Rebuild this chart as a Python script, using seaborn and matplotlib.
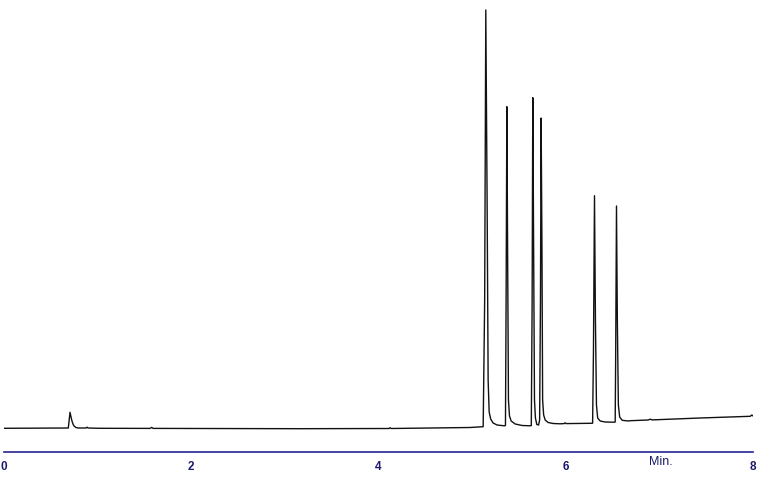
import matplotlib
matplotlib.use("Agg")
import matplotlib.pyplot as plt
import seaborn as sns
import pandas as pd

# Chromatogram trace (time in min, detector signal in arbitrary units)
time_min = [
    0.000, 0.687, 0.705, 0.716, 0.726, 0.737, 0.748, 0.769, 0.791,
    0.876, 0.887, 0.897, 1.026, 1.560, 1.578, 1.592, 3.162,
    4.113, 4.124, 4.135, 4.979,
    5.118, 5.134, 5.146, 5.160, 5.171, 5.182, 5.198, 5.224, 5.267, 5.342,
    5.356, 5.363, 5.371, 5.379, 5.388, 5.399, 5.417, 5.460, 5.534, 5.620,
    5.632, 5.641, 5.648, 5.657, 5.666, 5.676, 5.691,
    5.710, 5.721, 5.730, 5.737, 5.746, 5.753, 5.764, 5.780, 5.812, 5.865, 5.940,
    5.983, 5.994, 6.004, 6.261,
    6.287, 6.296, 6.307, 6.317, 6.328, 6.341, 6.368, 6.421, 6.517,
    6.528, 6.533, 6.542, 6.551, 6.562, 6.576, 6.603, 6.667,
    6.688, 6.880, 6.902, 6.923, 7.436, 7.970, 7.988, 8.000,
]
signal = [
    -0.3, 0.0, 15.7, 11.0, 7.0, 4.0, 2.0, 0.5, 0.0,
    0.0, 0.8, 0.0, -0.3, -0.4, 0.6, -0.4, -0.7,
    -0.5, 0.3, -0.5, 0.5,
    1.3, 128.0, 418.0, 228.0, 48.0, 16.0, 9.0, 5.0, 3.0, 2.2,
    2.5, 128.0, 321.3, 178.0, 28.0, 12.0, 7.0, 4.0, 2.5, 2.2,
    2.5, 128.0, 330.3, 178.0, 28.0, 10.0, 3.5,
    3.0, 8.0, 128.0, 310.0, 178.0, 28.0, 13.0, 8.0, 5.5, 4.5, 4.2,
    4.4, 5.2, 4.4, 4.7,
    4.8, 78.0, 232.3, 108.0, 23.0, 10.0, 7.0, 6.0, 5.8,
    6.0, 68.0, 222.0, 108.0, 23.0, 11.0, 7.7, 7.0,
    7.3, 8.0, 8.8, 8.1, 10.0, 11.7, 13.0, 12.0,
]
x_ticks = [0, 2, 4, 6, 8]
x_tick_labels = ["0", "2", "4", "6", "8"]
x_axis_label = "Min."

df = pd.DataFrame({"time": time_min, "signal": signal})

sns.set_style("white")
plt.rcParams["font.family"] = ["Liberation Sans", "DejaVu Sans"]

navy = "#262690"
label_navy = "#1c1c6a"

fig = plt.figure(figsize=(7.68, 4.80), dpi=100)
ax = fig.add_axes([4 / 768, 28 / 480, 749 / 768, 452 / 480])

sns.lineplot(data=df, x="time", y="signal", sort=False, estimator=None,
             color="#111111", linewidth=1.0, ax=ax)

ax.set_xlim(0, 8)
ax.set_ylim(-24, 428)
ax.set_xticks(x_ticks)
ax.set_xticklabels(x_tick_labels, fontsize=8.5, fontweight="bold", color=label_navy)
ax.set_yticks([])
ax.set_xlabel("")
ax.set_ylabel("")

for side in ["top", "left", "right"]:
    ax.spines[side].set_visible(False)
ax.spines["bottom"].set_color(navy)
ax.spines["bottom"].set_linewidth(1.2)
ax.tick_params(axis="x", direction="out", length=2.4, width=1.0, color=navy, pad=4.0)

fig.text(661 / 768, 1 - 462 / 480, x_axis_label, ha="center", va="center",
         fontsize=9, color=label_navy)

fig.savefig("out.png", dpi=100, facecolor="white")
